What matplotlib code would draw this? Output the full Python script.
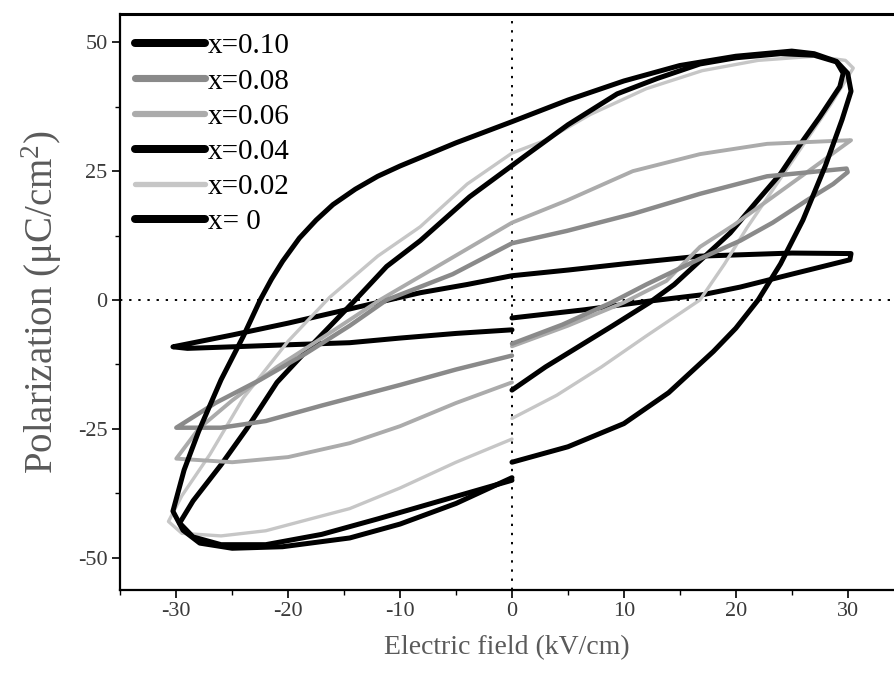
import matplotlib
matplotlib.use('Agg')
import matplotlib.pyplot as plt
from matplotlib.ticker import MultipleLocator

plt.rcParams['font.family'] = ['Liberation Serif', 'DejaVu Serif']
plt.rcParams['mathtext.fontset'] = 'custom'
plt.rcParams['mathtext.rm'] = 'Liberation Serif'
plt.rcParams['mathtext.default'] = 'regular'
plt.rcParams['axes.unicode_minus'] = False

# P-E loops: E in kV/cm, P in uC/cm2, in drawing order
E_010 = [0, 5, 10, 14, 18, 20, 22, 24, 26, 28, 29.5, 30.3,
         30, 29, 27, 25, 20, 15, 10, 5, 0, -5, -8, -10, -12, -14, -16, -17.5, -19,
         -20.5, -21.5, -22.5, -24, -26, -28, -29.3, -30.3,
         -29.4, -27.9, -25, -20.5, -14.5, -10, -5, 0]
P_010 = [-31.5, -28.5, -24, -18, -10, -5.5, 0, 7, 15.5, 26, 35, 40.5,
         44, 46.3, 47.8, 48.3, 47.3, 45.5, 42.5, 38.8, 34.6, 30.5, 27.8, 26, 24, 21.5, 18.5,
         15.5, 12, 7.5, 4, 0, -7, -15.5, -25.5, -33, -41,
         -44.7, -47.2, -48.2, -47.9, -46.2, -43.5, -39.5, -34.5]

E_008 = [0, 4.5, 8.8, 12, 16.8, 20.4, 23.3, 26.4, 28.7, 30,
         29.9, 22.8, 16.8, 10.8, 4.9, 0, -5.3, -11.2, -14.5, -18.5, -22.5, -26.5, -30,
         -26, -22, -17, -10, -5, 0]
P_008 = [-8.5, -4.8, -0.6, 3, 8, 11.5, 15, 19.4, 22.5, 24.8,
         25.5, 24, 20.6, 16.7, 13.4, 11, 5, 0, -5, -10.5, -15.5, -20, -24.8,
         -24.8, -23.5, -20.5, -16.5, -13.5, -10.8]

E_006 = [0, 5, 10, 13.8, 16.8, 19.8, 22.8, 26.5, 30.3,
         30.2, 22.8, 16.8, 10.8, 4.9, 0, -5.5, -11.8, -16, -21, -25, -28, -30,
         -25, -20, -14.5, -10, -5, 0]
P_006 = [-9, -5, -0.5, 3.7, 10.3, 14.5, 19.2, 25, 31,
         31, 30.3, 28.3, 25, 19.3, 15, 8, 0, -6, -13, -19.5, -25, -30.8,
         -31.5, -30.5, -27.8, -24.5, -20, -16]

E_004 = [0, 3, 6, 9, 12.3, 14.5, 16.8, 19.5, 21.9, 24, 25.7, 27.5, 29.3, 29.6,
         29, 27, 24, 20, 16.8, 13, 9.4, 5, 1.2, -3.8, -8.2, -11.2, -14, -18, -21,
         -23.7, -26, -28.5, -29.7,
         -28.5, -26, -22, -17, -12, -8, -4, 0]
P_004 = [-17.5, -13, -9, -5, -0.5, 3, 7.6, 13, 19.2, 24.5, 30, 35.5, 41.4, 44,
         46.2, 47.5, 47.8, 47, 45.8, 43, 40, 34, 28, 20, 11.5, 6.5, 0, -9, -16,
         -25, -32, -39, -43.3,
         -46, -47.5, -47.5, -45.5, -42.5, -40, -37.5, -35]

E_002 = [0, 4, 8, 12, 16.8, 19, 21, 23.5, 26, 28.5, 30.5,
         29.8, 27, 22, 17, 12, 7, 3, 0, -4, -8.2, -12, -16.3, -20, -24, -27, -29.5, -30.7,
         -29.5, -26, -22, -18, -14.5, -10, -5, 0]
P_002 = [-23, -18.5, -13, -7, 0, 7, 14, 22, 30, 38, 45,
         46.5, 47.3, 46.5, 44.5, 41, 36, 31, 28.5, 22.5, 14.2, 8.5, 0.5, -8, -19, -30, -38, -43,
         -45.3, -45.8, -44.8, -42.5, -40.5, -36.5, -31.5, -27]

E_000 = [0, 6.5, 12, 17, 20.4, 25, 30.2,
         30.3, 25, 16.8, 10, 5, 0, -4, -8.2, -12, -15, -20, -25, -30.3,
         -29, -25, -20, -14.5, -10, -5, 0]
P_000 = [-3.5, -1.9, -0.3, 1, 2.5, 5, 7.8,
         9, 9.1, 8.5, 7, 5.8, 4.7, 3, 1.4, -0.5, -2, -4.5, -6.8, -9.1,
         -9.4, -9.1, -8.7, -8.3, -7.4, -6.5, -5.8]

loops = [
    ('x=0.10', E_010, P_010, 'black', 3.6),
    ('x=0.08', E_008, P_008, '#8a8a8a', 3.2),
    ('x=0.06', E_006, P_006, '#ababab', 2.8),
    ('x=0.04', E_004, P_004, 'black', 3.6),
    ('x=0.02', E_002, P_002, '#c6c6c6', 2.4),
    ('x= 0', E_000, P_000, 'black', 3.6),
]

fig = plt.figure(figsize=(8.94, 6.8), dpi=100)
ax = fig.add_axes([120 / 894, 90 / 680, 774 / 894, 576 / 680])

ax.axhline(0, color='black', lw=1.4, ls=(0, (1.2, 3.5)), zorder=1)
ax.axvline(0, color='black', lw=1.4, ls=(0, (1.2, 3.5)), zorder=1)

handles = []
for z, (label, e, p, col, lw) in enumerate(loops):
    line, = ax.plot(e, p, color=col, lw=lw, solid_capstyle='round',
                    solid_joinstyle='round', label=label, zorder=10 - z)
    handles.append(line)

ax.set_xlim(-35.03, 34.14)
ax.set_ylim(-56.3, 55.5)
ax.xaxis.set_major_locator(MultipleLocator(10))
ax.xaxis.set_minor_locator(MultipleLocator(5))
ax.yaxis.set_major_locator(MultipleLocator(25))
ax.yaxis.set_minor_locator(MultipleLocator(12.5))
ax.tick_params(which='major', direction='out', length=6, width=1.2,
               labelsize=16, labelcolor='#3a3a3a', pad=3, top=False, right=False)
ax.tick_params(which='minor', direction='out', length=3.5, width=1.0,
               top=False, right=False)
ax.spines['right'].set_visible(False)
ax.spines['top'].set_linewidth(2.2)
ax.spines['left'].set_linewidth(1.6)
ax.spines['bottom'].set_linewidth(1.6)

ax.set_xlabel('Electric field (kV/cm)', fontsize=20, color='#5a5a5a', labelpad=10)
ax.set_ylabel('Polarization (μC/cm$^2$)', fontsize=28, color='#5a5a5a', labelpad=10)

leg = ax.legend(handles=handles, loc='upper left', bbox_to_anchor=(15 / 774, 1 - 19 / 576),
                frameon=False, fontsize=21, handlelength=2.4, handletextpad=0.1,
                labelspacing=0.3, borderaxespad=0, borderpad=0)
for lh in leg.get_lines():
    lh.set_linewidth(lh.get_linewidth() * 1.6)

fig.savefig('out.png', dpi=100)
